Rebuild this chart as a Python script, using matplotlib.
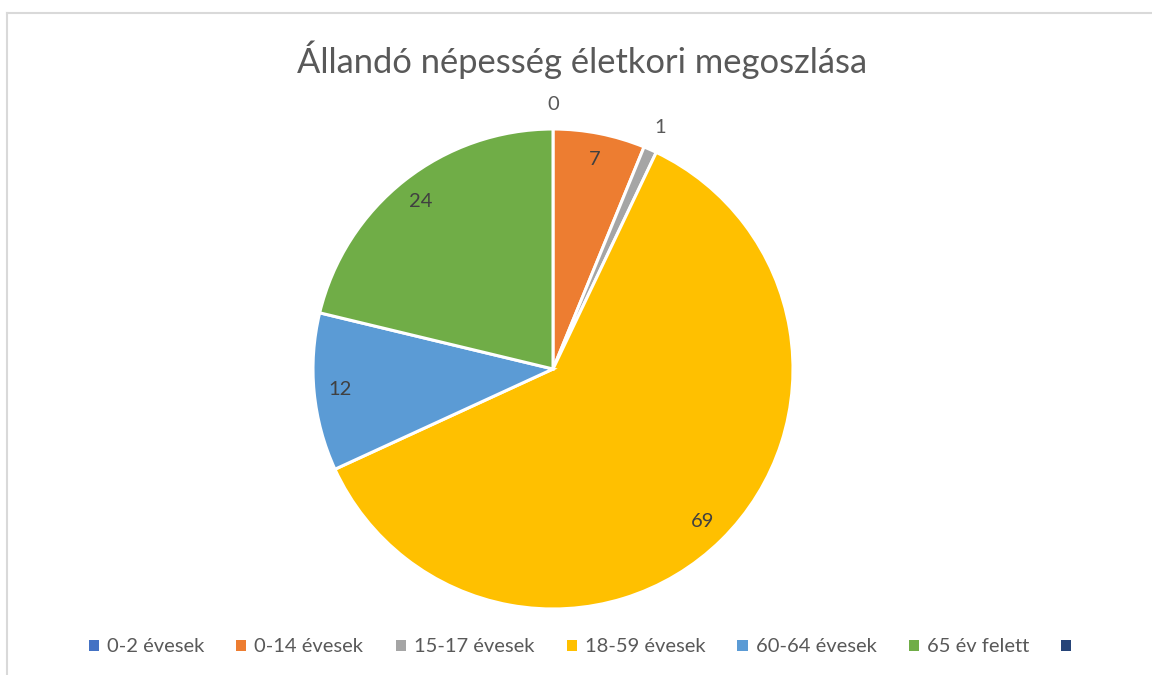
import numpy as np
import matplotlib
matplotlib.use('Agg')
from matplotlib import pyplot as plt
from matplotlib.patches import Patch
from matplotlib.lines import Line2D

plt.rcParams['font.family'] = ['Lato', 'DejaVu Sans']

title = 'Állandó népesség életkori megoszlása'
categories = ['0-2 évesek', '0-14 évesek', '15-17 évesek', '18-59 évesek',
              '60-64 évesek', '65 év felett', '']
values = [0, 7, 1, 69, 12, 24]
colors = ['#4472C4', '#ED7D31', '#A5A5A5', '#FFC000', '#5B9BD5', '#70AD47', '#264478']

text_col = '#595959'

fig = plt.figure(figsize=(11.52, 6.75), dpi=100)

# light frame (chart area is cropped on right and bottom)
fig.add_artist(Line2D([7 / 1152, 1], [1 - 13 / 675] * 2, color='#d9d9d9', lw=1.5))
fig.add_artist(Line2D([7 / 1152] * 2, [0, 1 - 13 / 675], color='#d9d9d9', lw=1.5))

cx, cy, r = 553, 369, 240
ax = fig.add_axes([(cx - r) / 1152, 1 - (cy + r) / 675, 2 * r / 1152, 2 * r / 675])
wedges, _ = ax.pie(values, colors=colors[:len(values)], startangle=90, counterclock=False,
                   radius=1, wedgeprops=dict(edgecolor='white', linewidth=2.2))
ax.set_xlim(-1, 1)
ax.set_ylim(-1, 1)
ax.set_aspect('auto')

for w, v in zip(wedges, values):
    ang = np.deg2rad((w.theta1 + w.theta2) / 2)
    dist = 0.89 if v >= 5 else 1.1
    ax.text(dist * np.cos(ang), dist * np.sin(ang), str(v), ha='center', va='center',
            fontsize=14.5, color='#404040' if v >= 5 else text_col, clip_on=False)

fig.text(582 / 1152, 1 - 60 / 675, title, ha='center', va='center', fontsize=24.8, color=text_col)

handles = [Patch(facecolor=c, edgecolor='none') for c in colors]
fig.legend(handles, categories, loc='center', bbox_to_anchor=(584 / 1152, 1 - 647 / 675),
           ncol=len(categories), frameon=False, fontsize=14.5, labelcolor=text_col,
           handlelength=0.5, handleheight=0.5, handletextpad=0.4, columnspacing=1.6)

fig.savefig('out.png', dpi=100)
